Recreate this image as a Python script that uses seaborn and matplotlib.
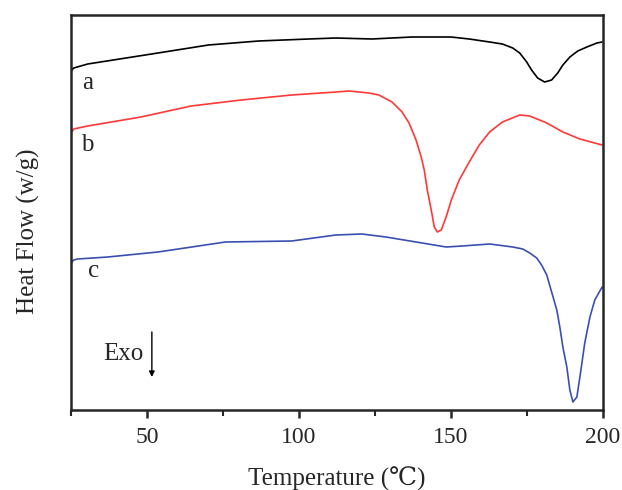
import numpy as np
import pandas as pd
import matplotlib
matplotlib.use("Agg")
import matplotlib.pyplot as plt
import seaborn as sns
from matplotlib.ticker import MultipleLocator

# ---- data ----
temp_a = [25, 25.9, 30.5, 53.6, 70.2, 86.7, 103.2, 112.1, 124, 137.2, 150, 156.0,
          162.7, 166.9, 170.3, 172.6, 174.9, 176.5, 178.5, 180.8, 183.1, 185.1,
          186.8, 189.1, 191.7, 194.7, 198.0, 199.7]
hf_a = [3.39, 3.42, 3.46, 3.57, 3.65, 3.69, 3.71, 3.72, 3.71, 3.73, 3.73, 3.71,
        3.68, 3.66, 3.62, 3.57, 3.48, 3.40, 3.32, 3.28, 3.30, 3.37,
        3.45, 3.53, 3.59, 3.63, 3.67, 3.68]

temp_b = [25, 25.9, 30.5, 48, 64.5, 81, 97.6, 112.1, 116.4, 123, 126.3, 130.6,
          133.9, 136.2, 138.5, 140.2, 141.2, 142.2, 143.5, 144.5, 145.5, 146.8,
          148.4, 150.1, 152.7, 156.0, 159.3, 162.7, 166.9, 172.6, 175.9, 181.5,
          186.8, 192.4, 199.7]
hf_b = [2.77, 2.81, 2.84, 2.93, 3.04, 3.10, 3.15, 3.18, 3.19, 3.17, 3.15, 3.08,
        2.98, 2.87, 2.70, 2.53, 2.40, 2.20, 2.00, 1.83, 1.78, 1.80,
        1.93, 2.10, 2.30, 2.48, 2.65, 2.78, 2.88, 2.95, 2.94, 2.87,
        2.78, 2.71, 2.65]

temp_c = [25, 25.9, 27.2, 37.1, 53.6, 75.8, 97.6, 112.1, 120.7, 128.6, 140.5, 148.4,
          153.7, 162.7, 170.3, 173.6, 175.9, 178.2, 179.8, 181.5, 183.1, 184.8,
          185.8, 186.8, 188.1, 189.1, 190.1, 191.4, 192.4, 194.0, 195.7, 197.3, 199.7]
hf_c = [1.47, 1.50, 1.51, 1.53, 1.58, 1.68, 1.69, 1.75, 1.76, 1.73, 1.67, 1.63,
        1.64, 1.66, 1.63, 1.61, 1.57, 1.52, 1.45, 1.35, 1.18, 1.00,
        0.83, 0.63, 0.43, 0.20, 0.08, 0.13, 0.33, 0.67, 0.93, 1.10, 1.23]

sample_labels = ["a", "b", "c"]
colors = ["#000000", "#ff3838", "#3b4fb3"]
x_ticks = [50, 100, 150, 200]

frames = []
for lab, t, h in zip(sample_labels, [temp_a, temp_b, temp_c], [hf_a, hf_b, hf_c]):
    frames.append(pd.DataFrame({"Temperature": t, "HeatFlow": h, "sample": lab}))
df = pd.concat(frames, ignore_index=True)

sns.set_style("ticks")
plt.rcParams["font.family"] = ["Liberation Serif", "DejaVu Serif", "DejaVu Sans"]

fig = plt.figure(figsize=(6.22, 4.90), dpi=100)
ax = fig.add_axes([71 / 622, 80 / 490, (603 - 71) / 622, (410 - 15) / 490])

sns.lineplot(data=df, x="Temperature", y="HeatFlow", hue="sample",
             palette=dict(zip(sample_labels, colors)), linewidth=1.2,
             legend=False, ax=ax, sort=False, estimator=None)

ax.set_xlim(25, 200)
ax.set_ylim(0, 3.95)
ax.set_xticks(x_ticks)
ax.xaxis.set_minor_locator(MultipleLocator(25))
ax.set_yticks([])
ax.tick_params(axis="x", which="major", direction="out", length=6, width=1.8,
               labelsize=17, pad=6)
ax.tick_params(axis="x", which="minor", direction="out", length=4, width=1.5)
for s in ax.spines.values():
    s.set_linewidth(1.8)
    s.set_visible(True)

ax.set_xlabel("Temperature (℃)", fontsize=18, labelpad=14)
ax.set_ylabel("Heat Flow (w/g)", fontsize=18, labelpad=16)
ax.yaxis.set_label_coords(-0.058, 0.453)

# curve labels
offsets = [(12, -1), (12, -1), (16, 2)]
for lab, t, h, off in zip(sample_labels, [temp_a, temp_b, temp_c],
                          [hf_a, hf_b, hf_c], offsets):
    ax.annotate(lab, xy=(t[0], h[0]), xytext=off, textcoords="offset points",
                fontsize=18, ha="center", va="top")

# Exo arrow
ax.text(48.8, 0.56, "Exo", fontsize=18, ha="right", va="center")
ax.annotate("", xy=(51.6, 0.33), xytext=(51.6, 0.78),
            arrowprops=dict(arrowstyle="-|>", color="black", lw=1.0,
                            mutation_scale=8, shrinkA=0, shrinkB=0))

fig.savefig("out.png", dpi=100)
